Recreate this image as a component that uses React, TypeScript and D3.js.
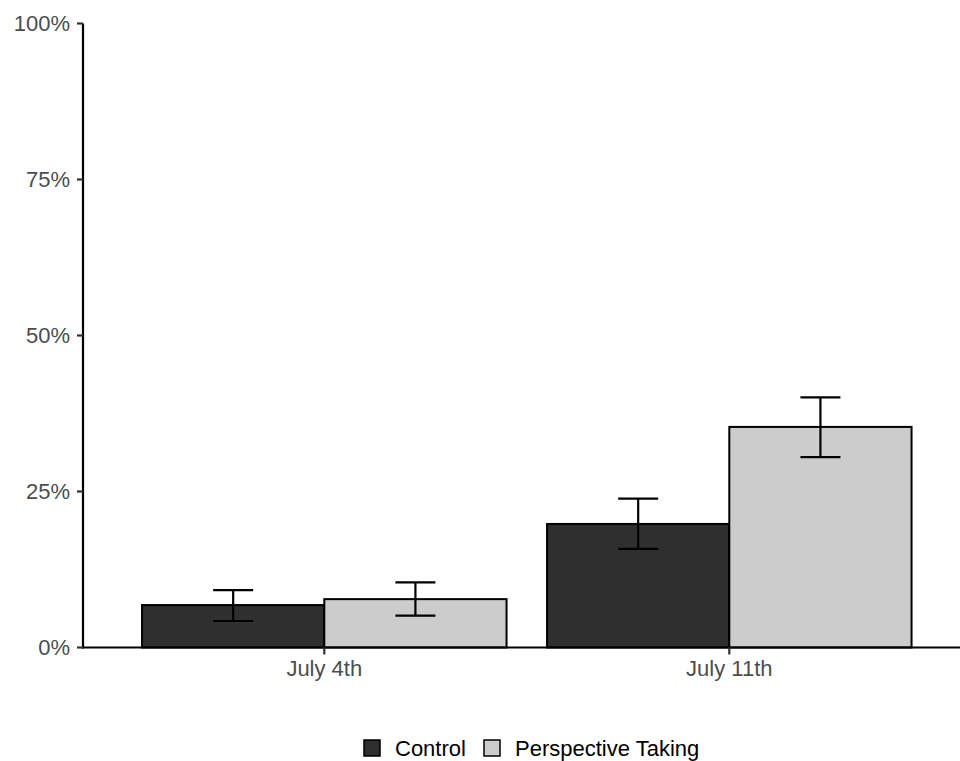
import React from "react";
import * as d3 from "d3";

const categories = ["July 4th", "July 11th"];
const groups = ["Control", "Perspective Taking"];
const controlValues = [6.8, 19.8];
const controlLow = [4.25, 15.8];
const controlHigh = [9.2, 23.85];
const perspectiveValues = [7.75, 35.35];
const perspectiveLow = [5.1, 30.5];
const perspectiveHigh = [10.45, 40.1];
const yTicks = [0, 25, 50, 75, 100];
const colors = ["#2f2f2f", "#cccccc"];

const W = 960;
const H = 761;
const axisX = 83;
const axisY = 647.5;

export default function App() {
  const y = d3.scaleLinear().domain([0, 100]).range([axisY, 23.5]);
  const x = d3.scaleBand().domain(categories).range([121.8, 931.8]).padding(0);
  const dodge = 0.9 * x.bandwidth();
  const xi = d3.scaleBand().domain(groups).range([-dodge / 2, dodge / 2]).padding(0);
  const series = [
    { name: groups[0], vals: controlValues, lo: controlLow, hi: controlHigh, color: colors[0] },
    { name: groups[1], vals: perspectiveValues, lo: perspectiveLow, hi: perspectiveHigh, color: colors[1] },
  ];
  const whisker = 20;
  const font = "Liberation Sans, Arial, Helvetica, sans-serif";

  return (
    <svg width={W} height={H} style={{ position: "absolute", left: 0, top: 0 }} fontFamily={font}>
      <rect width={W} height={H} fill="#fff" />
      {series.map((s) =>
        categories.map((c, i) => {
          const cx = (x(c) as number) + x.bandwidth() / 2;
          const bx = cx + (xi(s.name) as number);
          return (
            <rect key={s.name + c} x={bx} y={y(s.vals[i])} width={xi.bandwidth()} height={axisY - y(s.vals[i])}
              fill={s.color} stroke="#000" strokeWidth={2} />
          );
        })
      )}
      {series.map((s) =>
        categories.map((c, i) => {
          const cx = (x(c) as number) + x.bandwidth() / 2 + (xi(s.name) as number) + xi.bandwidth() / 2;
          return (
            <g key={"e" + s.name + c} stroke="#000" strokeWidth={2.2}>
              <line x1={cx} x2={cx} y1={y(s.lo[i])} y2={y(s.hi[i])} />
              <line x1={cx - whisker} x2={cx + whisker} y1={y(s.lo[i])} y2={y(s.lo[i])} />
              <line x1={cx - whisker} x2={cx + whisker} y1={y(s.hi[i])} y2={y(s.hi[i])} />
            </g>
          );
        })
      )}
      {/* axes */}
      <line x1={axisX} x2={axisX} y1={y(100)} y2={axisY + 1} stroke="#000" strokeWidth={2.2} />
      <line x1={axisX - 1} x2={W} y1={axisY} y2={axisY} stroke="#000" strokeWidth={2.2} />
      {yTicks.map((t) => (
        <g key={t}>
          <line x1={axisX - 6} x2={axisX} y1={y(t)} y2={y(t)} stroke="#333" strokeWidth={2.2} />
          <text x={70} y={y(t)} dy="0.36em" textAnchor="end" fontSize={22} fill="#4d4d4d">{t + "%"}</text>
        </g>
      ))}
      {categories.map((c) => {
        const cx = (x(c) as number) + x.bandwidth() / 2;
        return (
          <g key={c}>
            <line x1={cx} x2={cx} y1={axisY} y2={axisY + 7} stroke="#333" strokeWidth={2.2} />
            <text x={cx} y={676} textAnchor="middle" fontSize={22} fill="#4d4d4d">{c}</text>
          </g>
        );
      })}
      {/* legend */}
      <g>
        <rect x={364} y={740} width={16} height={16} fill={colors[0]} stroke="#000" strokeWidth={1.5} />
        <text x={395} y={756} fontSize={22} fill="#000">{groups[0]}</text>
        <rect x={484} y={740} width={16} height={16} fill={colors[1]} stroke="#000" strokeWidth={1.5} />
        <text x={515} y={756} fontSize={22} fill="#000">{groups[1]}</text>
      </g>
    </svg>
  );
}
